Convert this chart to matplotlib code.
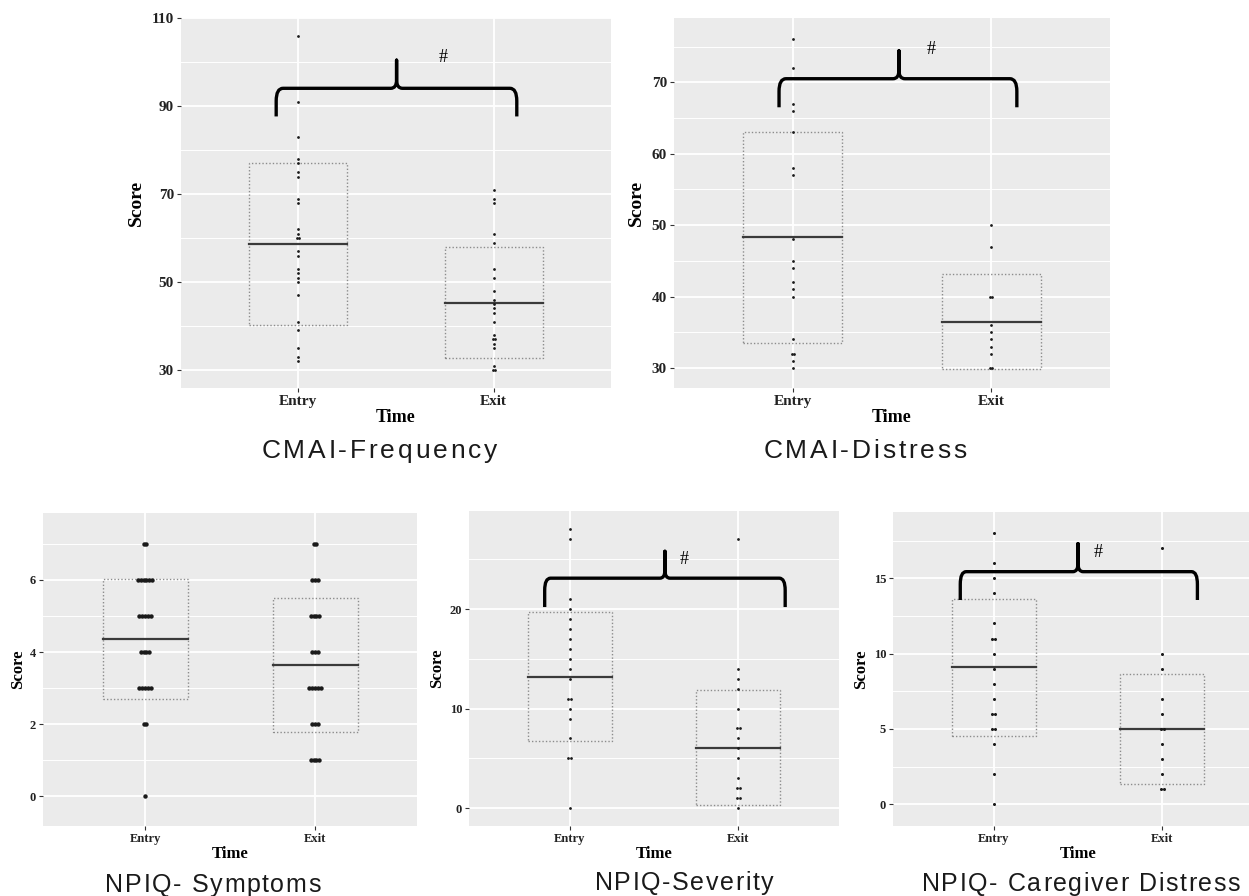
import numpy as np
import matplotlib
matplotlib.use("Agg")
import matplotlib.pyplot as plt
from matplotlib.path import Path
from matplotlib.patches import PathPatch, Rectangle
from matplotlib.font_manager import FontProperties
from collections import Counter

groups = ["Entry", "Exit"]

# scores, one list per panel and time point
freq_entry = [106, 91, 83, 78, 77, 75, 74, 69, 68, 62, 61, 60, 60, 57, 56, 53, 52, 51, 50, 47, 41, 39, 35, 33, 32]
freq_exit = [71, 69, 68, 61, 59, 53, 51, 48, 46, 45, 44, 43, 41, 38, 37, 37, 36, 35, 31, 30, 30]
dist_entry = [76, 72, 67, 66, 63, 58, 57, 48, 45, 44, 42, 41, 40, 34, 32, 32, 31, 30]
dist_exit = [50, 47, 40, 40, 36, 35, 34, 33, 32, 30, 30]
symp_entry = [7, 7, 6, 6, 6, 6, 6, 6, 5, 5, 5, 5, 5, 4, 4, 4, 4, 3, 3, 3, 3, 3, 2, 2, 0]
symp_exit = [7, 7, 6, 6, 6, 5, 5, 5, 5, 4, 4, 4, 3, 3, 3, 3, 3, 2, 2, 2, 1, 1, 1, 1]
sev_entry = [28, 27, 21, 20, 19, 18, 17, 16, 15, 14, 13, 11, 11, 10, 9, 7, 5, 5, 0]
sev_exit = [27, 14, 13, 12, 10, 8, 8, 7, 6, 5, 3, 2, 2, 1, 1, 0]
care_entry = [18, 16, 15, 14, 12, 11, 11, 10, 9, 8, 7, 6, 6, 5, 5, 4, 2, 0]
care_exit = [17, 10, 9, 7, 6, 5, 5, 4, 3, 2, 1, 1]

# mean and SD shown by the dotted boxes
means = [[58.6, 45.3], [48.3, 36.5], [4.36, 3.64], [13.2, 6.07], [9.1, 5.0]]
sds = [[18.4, 12.6], [14.75, 6.7], [1.67, 1.87], [6.5, 5.77], [4.55, 3.66]]

titles = ["CMAI-Frequency", "CMAI-Distress", "NPIQ- Symptoms", "NPIQ-Severity", "NPIQ- Caregiver Distress"]
panel_data = [(freq_entry, freq_exit), (dist_entry, dist_exit), (symp_entry, symp_exit),
              (sev_entry, sev_exit), (care_entry, care_exit)]

# brace: x0, x1, xmid, y_end, y_bar, y_tip, hash_x, hash_y  (None = no brace)
braces = [
    (0.887, 2.118, 1.503, 87.7, 94.1, 100.5, 1.74, 101.0),
    (0.93, 2.13, 1.535, 66.5, 70.5, 74.4, 1.70, 74.6),
    None,
    (0.85, 2.28, 1.565, 20.2, 23.1, 25.8, 1.68, 25.0),
    (0.80, 2.21, 1.50, 13.56, 15.44, 17.3, 1.62, 16.7),
]

W, H = 1249, 896
# panel boxes in pixels: left, top, right, bottom
boxes = [(181, 18, 611, 388), (674, 18, 1110, 388), (43, 513, 417, 826),
         (469, 511, 839, 826), (893, 512, 1263, 826)]
ylims = [(25.9, 110.1), (27.2, 79.0), (-0.83, 7.86), (-1.8, 29.85), (-1.44, 19.4)]
major = [[30, 50, 70, 90, 110], [30, 40, 50, 60, 70], [0, 2, 4, 6], [0, 10, 20], [0, 5, 10, 15]]
minor = [[40, 60, 80, 100], [35, 45, 55, 65, 75], [1, 3, 5, 7], [5, 15, 25], [2.5, 7.5, 12.5, 17.5]]
title_xy = [(379, 451), (865, 451), (213, 885), (684, 883), (1081, 884)]
score_x = [136, 636, 18, 437, 861]
dot_size = [2.0, 2.0, 3.2, 2.0, 2.2]
big = [True, True, False, False, False]

serif = "Liberation Serif"
sans = "Liberation Sans"

fig = plt.figure(figsize=(W / 100, H / 100), dpi=100)
renderer = fig.canvas.get_renderer()


def spaced_text(s, cx, cy, size, track):
    # draw a title with extra letter spacing, centred at (cx, cy) in pixels
    prop = FontProperties(family=sans, size=size)
    def width(sub):
        if not sub:
            return 0.0
        return renderer.get_text_width_height_descent(sub, prop, ismath=False)[0]
    total = width(s) + track * (len(s) - 1)
    x0 = cx - total / 2
    for k, ch in enumerate(s):
        if ch == " ":
            continue
        xk = x0 + width(s[:k]) + track * k
        fig.text(xk / W, 1 - cy / H, ch, ha="left", va="center", fontproperties=prop,
                 color="#1a1a1a")


def draw_brace(ax, b):
    x0, x1, xm, ye, yb, yt, hx, hy = b
    h = yt - yb
    dx = 0.035
    dxm = 0.03
    verts = [(x0, ye), (x0, yb - h * 0.45), (x0, yb), (x0 + dx, yb),
             (xm - dxm, yb), (xm, yb), (xm, yb + h * 0.3), (xm, yt),
             (xm, yb + h * 0.3), (xm, yb), (xm + dxm, yb),
             (x1 - dx, yb), (x1, yb), (x1, yb - h * 0.45), (x1, ye)]
    codes = [Path.MOVETO, Path.LINETO, Path.CURVE3, Path.CURVE3,
             Path.LINETO, Path.CURVE3, Path.CURVE3, Path.LINETO,
             Path.LINETO, Path.CURVE3, Path.CURVE3,
             Path.LINETO, Path.CURVE3, Path.CURVE3, Path.LINETO]
    ax.add_patch(PathPatch(Path(verts, codes), fill=False, lw=2.4, color="black",
                           capstyle="butt", joinstyle="round", zorder=6, clip_on=False))
    ax.text(hx, hy, "#", ha="center", va="center", fontsize=13, family=serif, zorder=6)


for i in range(5):
    l, t, r, b = boxes[i]
    ax = fig.add_axes([l / W, 1 - b / H, (r - l) / W, (b - t) / H])
    ax.set_facecolor("#EBEBEB")
    for s in ax.spines.values():
        s.set_visible(False)
    ax.set_xlim(0.4, 2.6)
    ax.set_ylim(*ylims[i])
    ax.set_yticks(major[i])
    ax.set_yticks(minor[i], minor=True)
    ax.set_xticks([1, 2])
    ax.set_xticklabels(groups)
    ax.grid(True, which="major", color="white", lw=1.3, zorder=0)
    ax.grid(True, which="minor", axis="y", color="white", lw=0.7, zorder=0)
    ax.set_axisbelow(True)
    ax.tick_params(which="minor", length=0)
    tsize = 11 if big[i] else 9
    ax.tick_params(which="major", length=3, width=0.8, color="#333333", pad=2,
                   labelsize=tsize, labelcolor="#222222")
    for lab in ax.get_xticklabels() + ax.get_yticklabels():
        lab.set_family(serif)
        lab.set_fontweight("bold")

    px_per_unit = (r - l) / 2.2
    step = (2.4 if big[i] else 2.9) / px_per_unit
    for g, vals in enumerate(panel_data[i]):
        xc = g + 1
        m, sd = means[i][g], sds[i][g]
        ax.add_patch(Rectangle((xc - 0.25, m - sd), 0.5, 2 * sd, fill=False,
                               ls=(0, (1, 1.5)), lw=1.0, ec="#8c8c8c", zorder=2))
        ax.plot([xc - 0.25, xc + 0.25], [m, m], color="#3a3a3a", lw=1.6, zorder=3)
        cnt = Counter(vals)
        xs, ys = [], []
        for v, n in cnt.items():
            for k in range(n):
                xs.append(xc + (k - (n - 1) / 2) * step)
                ys.append(v)
        ax.plot(xs, ys, "o", ms=dot_size[i], mfc="#1a1a1a", mec="#1a1a1a", mew=0, zorder=4)

    if braces[i] is not None:
        draw_brace(ax, braces[i])

    ax.set_xlabel("Time", family=serif, fontweight="bold", fontsize=13 if big[i] else 12,
                  labelpad=1)
    cy = 1 - (t + b) / 2 / H
    fig.text(score_x[i] / W, cy, "Score", rotation=90, ha="center", va="center",
             family=serif, fontweight="bold", fontsize=14 if big[i] else 12)
    tx, ty = title_xy[i]
    spaced_text(titles[i], tx, ty, 19 if big[i] else 18, 2.8 if big[i] else 1.6)

fig.savefig("out.png", dpi=100)
